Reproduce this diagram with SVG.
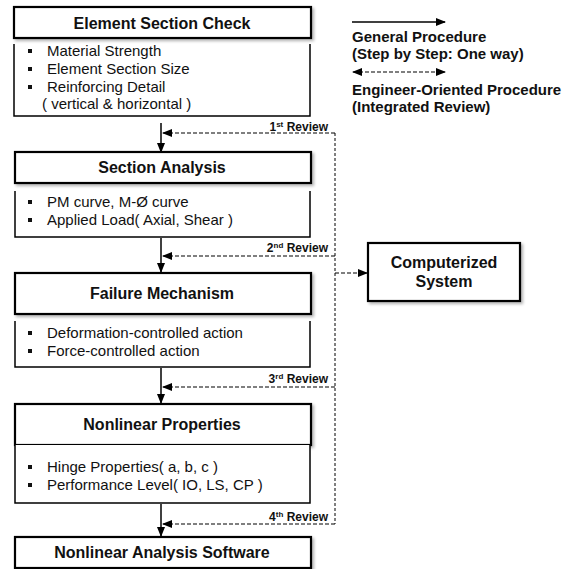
<svg xmlns="http://www.w3.org/2000/svg" width="573" height="569" viewBox="0 0 573 569">
<style>
.hdr{fill:#fff;stroke:#000;stroke-width:2.2}
.det{fill:#fff;stroke:#000;stroke-width:1.5}
.ht{font-family:"Liberation Sans",Arial,sans-serif;font-weight:bold;font-size:16px;text-anchor:middle;fill:#111}
.dt{font-family:"Liberation Sans",Arial,sans-serif;font-size:15px;fill:#111}
.lg{font-family:"Liberation Sans",Arial,sans-serif;font-weight:bold;font-size:15px;fill:#111}
.rv{font-family:"Liberation Sans",Arial,sans-serif;font-weight:bold;font-size:12px;text-anchor:end;fill:#111}
.sup{font-size:8px}
.main{stroke:#000;stroke-width:1.5;fill:none}
.dash{stroke:#000;stroke-width:1.2;stroke-dasharray:4,2;fill:none}
.vdash{stroke:#000;stroke-width:1;stroke-dasharray:3,2;fill:none}
</style>
<defs>
<marker id="ah" markerWidth="10" markerHeight="8" refX="9" refY="4" orient="auto" markerUnits="userSpaceOnUse">
<path d="M0,0 L10,4 L0,8 Z" fill="#000"/>
</marker>
<marker id="ahs" markerWidth="10" markerHeight="8" refX="1" refY="4" orient="auto" markerUnits="userSpaceOnUse">
<path d="M10,0 L0,4 L10,8 Z" fill="#000"/>
</marker>
<filter id="sh" x="-5%" y="-10%" width="115%" height="130%">
<feGaussianBlur in="SourceAlpha" stdDeviation="1.5"/>
<feOffset dx="2" dy="2" result="b"/>
<feComponentTransfer><feFuncA type="linear" slope="0.3"/></feComponentTransfer>
<feMerge><feMergeNode/><feMergeNode in="SourceGraphic"/></feMerge>
</filter>
<rect id="blt" width="4" height="4" fill="#111"/>
</defs>

<g id="node-element-section-check">
<rect class="hdr" x="14" y="7" width="297" height="31" filter="url(#sh)"/>
<text class="ht" x="162" y="29">Element Section Check</text>
<path class="det" d="M14,44 V116 H310 V44"/>
<use href="#blt" x="28" y="49"/><text class="dt" x="47" y="56">Material Strength</text>
<use href="#blt" x="28" y="67"/><text class="dt" x="47" y="74">Element Section Size</text>
<use href="#blt" x="28" y="85"/><text class="dt" x="47" y="92">Reinforcing Detail</text>
<text class="dt" x="42" y="109">( vertical &amp; horizontal )</text>
</g>

<g id="node-section-analysis">
<rect class="hdr" x="15" y="152" width="296" height="31" filter="url(#sh)"/>
<text class="ht" x="162" y="173">Section Analysis</text>
<path class="det" d="M15,191 V237 H310 V191"/>
<use href="#blt" x="28" y="200"/><text class="dt" x="47" y="207">PM curve, M-Ø curve</text>
<use href="#blt" x="28" y="218"/><text class="dt" x="47" y="225">Applied Load( Axial, Shear )</text>
</g>

<g id="node-failure-mechanism">
<rect class="hdr" x="15" y="273" width="296" height="41" filter="url(#sh)"/>
<text class="ht" x="162" y="299">Failure Mechanism</text>
<path class="det" d="M15,321 V367 H310 V321"/>
<use href="#blt" x="28" y="331"/><text class="dt" x="47" y="338">Deformation-controlled action</text>
<use href="#blt" x="28" y="349"/><text class="dt" x="47" y="356">Force-controlled action</text>
</g>

<g id="node-nonlinear-properties">
<rect class="hdr" x="15" y="404" width="296" height="41" filter="url(#sh)"/>
<text class="ht" x="162" y="430">Nonlinear Properties</text>
<path class="det" d="M15,445 V503 H310 V445"/>
<use href="#blt" x="28" y="465"/><text class="dt" x="47" y="472">Hinge Properties( a, b, c )</text>
<use href="#blt" x="28" y="483"/><text class="dt" x="47" y="490">Performance Level( IO, LS, CP )</text>
</g>

<g id="node-nonlinear-analysis-software">
<rect class="hdr" x="15" y="537" width="296" height="31" filter="url(#sh)"/>
<text class="ht" x="162" y="558">Nonlinear Analysis Software</text>
</g>

<g id="node-computerized-system">
<rect class="hdr" x="368" y="243" width="152" height="58" filter="url(#sh)"/>
<text class="ht" x="444" y="268">Computerized</text>
<text class="ht" x="444" y="287">System</text>
</g>

<g id="legend">
<line class="main" x1="352" y1="22" x2="445" y2="22" marker-end="url(#ah)"/>
<text class="lg" x="352" y="42">General Procedure</text>
<text class="lg" x="352" y="59">(Step by Step: One way)</text>
<line class="dash" x1="353" y1="72" x2="445" y2="72" marker-start="url(#ahs)" marker-end="url(#ah)"/>
<text class="lg" x="352" y="95">Engineer-Oriented Procedure</text>
<text class="lg" x="352" y="112">(Integrated Review)</text>
</g>

<g id="connectors">
<line class="main" x1="161" y1="123" x2="161" y2="152" marker-end="url(#ah)"/>
<line class="main" x1="161" y1="238" x2="161" y2="272" marker-end="url(#ah)"/>
<line class="main" x1="161" y1="368" x2="161" y2="403" marker-end="url(#ah)"/>
<line class="main" x1="161" y1="504" x2="161" y2="536" marker-end="url(#ah)"/>
<line class="vdash" x1="335" y1="133" x2="335" y2="524"/>
<line class="dash" x1="335" y1="133" x2="163" y2="133" marker-end="url(#ah)"/>
<line class="dash" x1="335" y1="256" x2="163" y2="256" marker-end="url(#ah)"/>
<line class="dash" x1="335" y1="387" x2="163" y2="387" marker-end="url(#ah)"/>
<line class="dash" x1="335" y1="524" x2="163" y2="524" marker-end="url(#ah)"/>
<line class="dash" x1="335" y1="273" x2="367" y2="273" marker-end="url(#ah)"/>
<text class="rv" x="328" y="131">1<tspan class="sup" dy="-4">st</tspan><tspan dy="4"> Review</tspan></text>
<text class="rv" x="328" y="252">2<tspan class="sup" dy="-4">nd</tspan><tspan dy="4"> Review</tspan></text>
<text class="rv" x="328" y="383">3<tspan class="sup" dy="-4">rd</tspan><tspan dy="4"> Review</tspan></text>
<text class="rv" x="328" y="521">4<tspan class="sup" dy="-4">th</tspan><tspan dy="4"> Review</tspan></text>
</g>
</svg>
